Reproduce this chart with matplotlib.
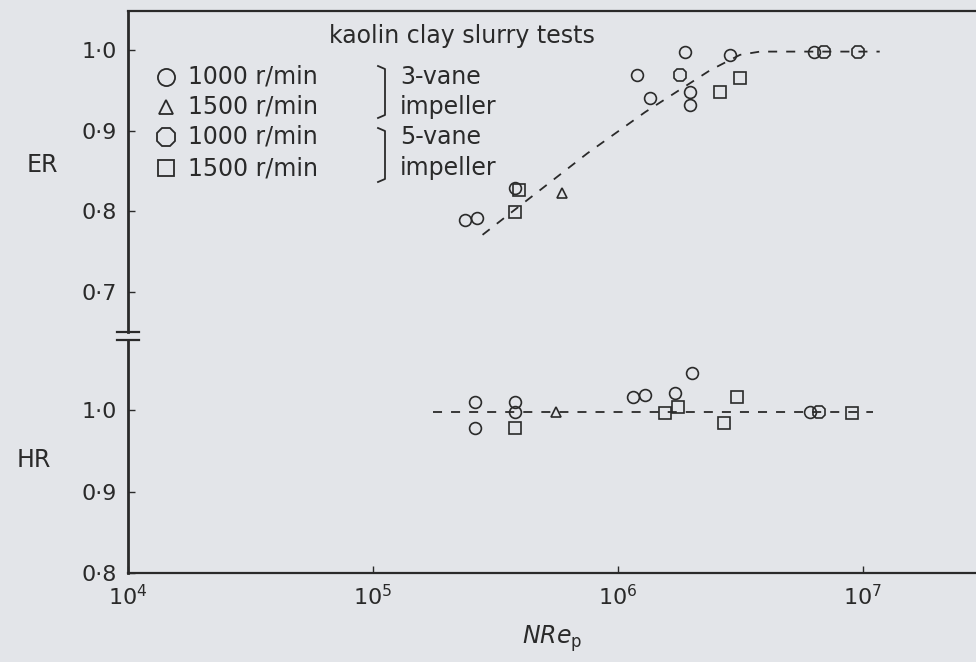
import matplotlib
matplotlib.use('Agg')
import matplotlib.pyplot as plt
from matplotlib.lines import Line2D

# ---- data ----
# upper panel: ER vs NRe_p
er3_1000_x = [2.38e5, 2.66e5, 3.8e5, 1.2e6, 1.35e6, 1.87e6, 1.97e6, 1.97e6, 2.86e6, 6.3e6]
er3_1000_y = [0.789, 0.792, 0.829, 0.969, 0.941, 0.998, 0.948, 0.932, 0.994, 0.998]
er3_1500_x = [5.9e5]
er3_1500_y = [0.823]
er5_1000_x = [1.79e6, 6.9e6, 9.5e6]
er5_1000_y = [0.969, 0.998, 0.998]
er5_1500_x = [3.8e5, 3.95e5, 2.6e6, 3.15e6]
er5_1500_y = [0.799, 0.826, 0.948, 0.965]
er_fit_x = [2.8e5, 7.5e5, 1.29e6, 2.38e6, 3.15e6, 3.8e6, 1.17e7]
er_fit_y = [0.771, 0.872, 0.923, 0.975, 0.994, 0.998, 0.998]

# lower panel: HR vs NRe_p
hr3_1000_x = [2.6e5, 2.6e5, 3.8e5, 3.8e5, 1.15e6, 1.29e6, 1.71e6, 2.0e6, 6.1e6]
hr3_1000_y = [1.010, 0.978, 1.010, 0.998, 1.016, 1.018, 1.021, 1.045, 0.998]
hr3_1500_x = [5.6e5]
hr3_1500_y = [0.998]
hr5_1000_x = [6.6e6]
hr5_1000_y = [0.998]
hr5_1500_x = [3.8e5, 1.56e6, 1.75e6, 2.7e6, 3.06e6, 9.0e6]
hr5_1500_y = [0.978, 0.996, 1.004, 0.984, 1.016, 0.996]
hr_fit_x = [1.76e5, 1.1e7]
hr_fit_y = [0.998, 0.998]

x_ticks = [1e4, 1e5, 1e6, 1e7]
x_ticklabels = [r'$10^{4}$', r'$10^{5}$', r'$10^{6}$', r'$10^{7}$']
er_ticks = [0.7, 0.8, 0.9, 1.0]
er_ticklabels = ['0·7', '0·8', '0·9', '1·0']
hr_ticks = [0.8, 0.9, 1.0]
hr_ticklabels = ['0·8', '0·9', '1·0']

ink = '#2a2a2a'
paper = '#e3e5e9'
plt.rcParams['font.family'] = ['DejaVu Sans']
plt.rcParams['mathtext.fontset'] = 'dejavusans'

W, H = 976, 662
fig = plt.figure(figsize=(W / 100, H / 100), dpi=100, facecolor=paper)


def fx(px):
    return px / W


def fy(py):
    return 1 - py / H


left, right = 128, 976
ax_er = fig.add_axes([fx(left), fy(332), fx(right - left), (332 - 11) / H])
ax_hr = fig.add_axes([fx(left), fy(573), fx(right - left), (573 - 340) / H])

styles = [
    dict(marker='o', ms=8.5),   # 3-vane 1000
    dict(marker='^', ms=7),     # 3-vane 1500
    dict(marker='8', ms=9.5),   # 5-vane 1000
    dict(marker='s', ms=8),     # 5-vane 1500
]


def pts(ax, x, y, st):
    ax.plot(x, y, ls='none', mfc='none', mec=ink, mew=1.2, **st)


for ax in (ax_er, ax_hr):
    ax.set_facecolor('none')
    ax.set_xscale('log')
    ax.set_xlim(1e4, 10 ** (4 + (right - left) / 245))
    ax.spines['right'].set_visible(False)
    ax.spines['left'].set_linewidth(2.0)
    ax.spines['top'].set_linewidth(1.6)
    ax.spines['bottom'].set_linewidth(1.6)
    for s in ax.spines.values():
        s.set_color(ink)
    ax.minorticks_off()
    ax.tick_params(direction='in', length=5, width=1, colors=ink, labelsize=16, pad=8)

# upper
ax_er.set_ylim(0.6506, 1.0483)
ax_er.spines['bottom'].set_visible(False)
ax_er.set_xticks([])
ax_er.set_yticks(er_ticks)
ax_er.set_yticklabels(er_ticklabels)
ax_er.plot(er_fit_x, er_fit_y, color=ink, lw=1.3, ls=(0, (5, 5)))
pts(ax_er, er3_1000_x, er3_1000_y, styles[0])
pts(ax_er, er3_1500_x, er3_1500_y, styles[1])
pts(ax_er, er5_1000_x, er5_1000_y, styles[2])
pts(ax_er, er5_1500_x, er5_1500_y, styles[3])

# lower
ax_hr.set_ylim(0.8, 1.0859)
ax_hr.spines['top'].set_visible(False)
ax_hr.set_yticks(hr_ticks)
ax_hr.set_yticklabels(hr_ticklabels)
ax_hr.set_xticks(x_ticks)
ax_hr.set_xticklabels(x_ticklabels)
ax_hr.plot(hr_fit_x, hr_fit_y, color=ink, lw=1.3, ls=(0, (5, 5)))
pts(ax_hr, hr3_1000_x, hr3_1000_y, styles[0])
pts(ax_hr, hr3_1500_x, hr3_1500_y, styles[1])
pts(ax_hr, hr5_1000_x, hr5_1000_y, styles[2])
pts(ax_hr, hr5_1500_x, hr5_1500_y, styles[3])
ax_hr.set_xlabel(r'$NRe_{\rm p}$', fontsize=17, color=ink, labelpad=10)

# axis break marks
ax_er.plot([-0.013, 0.013], [0, 0], transform=ax_er.transAxes, color=ink, lw=1.6, clip_on=False)
ax_hr.plot([-0.013, 0.013], [1, 1], transform=ax_hr.transAxes, color=ink, lw=1.6, clip_on=False)

# axis names
fig.text(fx(42), fy(165), 'ER', fontsize=17, color=ink, ha='center', va='center')
fig.text(fx(34), fy(460), 'HR', fontsize=17, color=ink, ha='center', va='center')

# hand-drawn legend block
fig.text(fx(329), fy(36), 'kaolin clay slurry tests', fontsize=17, color=ink, va='center')
rows = [77, 107, 137, 168]
speeds = ['1000 r/min', '1500 r/min', '1000 r/min', '1500 r/min']
for st, r, lab in zip(styles, rows, speeds):
    big = dict(st)
    big['ms'] = st['ms'] * 1.45
    fig.add_artist(Line2D([fx(166)], [fy(r)], ls='none', mfc='none', mec=ink, mew=1.3, **big))
    fig.text(fx(188), fy(r), lab, fontsize=17, color=ink, va='center')

for top, bot in [(66, 118), (128, 182)]:
    fig.add_artist(Line2D([fx(378), fx(385), fx(385), fx(378)],
                          [fy(top), fy(top + 3), fy(bot - 3), fy(bot)], color=ink, lw=1.3))
for r, lab in zip(rows, ['3-vane', 'impeller', '5-vane', 'impeller']):
    fig.text(fx(400), fy(r), lab, fontsize=17, color=ink, va='center')

fig.savefig('out.png', dpi=100, facecolor=paper)
